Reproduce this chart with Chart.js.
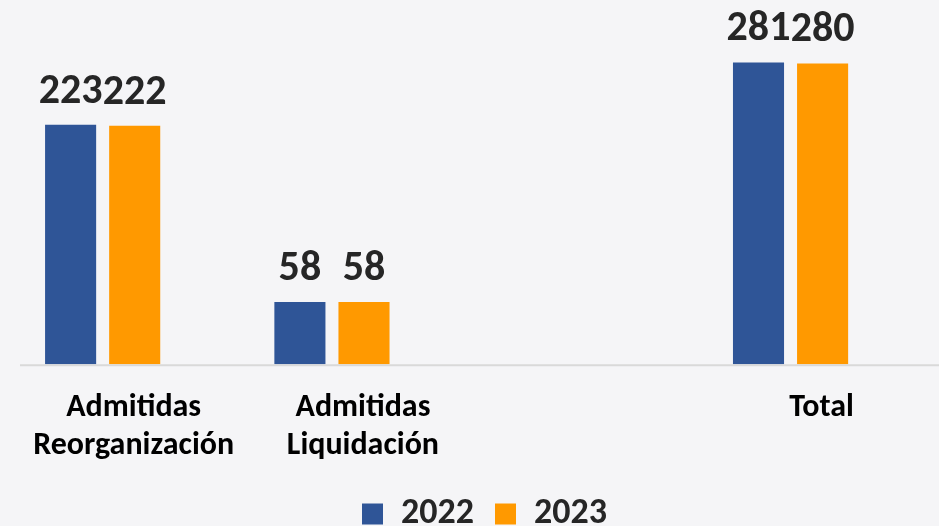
<!DOCTYPE html>
<html>
<head>
<meta charset="utf-8">
<script src="https://cdn.jsdelivr.net/npm/chart.js@4/dist/chart.umd.min.js"></script>
<style>
  html, body { margin: 0; padding: 0; width: 939px; height: 526px; overflow: hidden; background: #F5F5F7; }
  #wrap { position: absolute; left: -12px; top: 0; width: 993px; height: 542px; }
</style>
</head>
<body>
<div id="wrap"><canvas id="c"></canvas></div>
<script>
const categories = [['Admitidas', 'Reorganización'], ['Admitidas', 'Liquidación'], '', 'Total'];
const seriesNames = ['2022', '2023'];
const values2022 = [223, 58, null, 281];
const values2023 = [222, 58, null, 280];

const FONT = "Carlito, Lato, 'Open Sans', sans-serif";
const CANVAS_SHIFT = 12;

const baselinePlugin = {
  id: 'baseline',
  beforeDatasetsDraw(chart) {
    const ctx = chart.ctx;
    const y = chart.scales.y.getPixelForValue(0);
    ctx.save();
    ctx.strokeStyle = '#D9D9D9';
    ctx.lineWidth = 2;
    ctx.beginPath();
    ctx.moveTo(20 + CANVAS_SHIFT, y + 1);
    ctx.lineTo(chart.width, y + 1);
    ctx.stroke();
    ctx.restore();
  }
};

const valueLabels = {
  id: 'valueLabels',
  afterDatasetsDraw(chart) {
    const ctx = chart.ctx;
    ctx.save();
    ctx.font = "bold 42px " + FONT;
    ctx.fillStyle = '#262626';
    ctx.textAlign = 'center';
    ctx.textBaseline = 'alphabetic';
    chart.data.datasets.forEach((ds, di) => {
      chart.getDatasetMeta(di).data.forEach((bar, i) => {
        const v = ds.data[i];
        if (v == null) return;
        ctx.fillText(String(v), bar.x, bar.y - 22);
      });
    });
    ctx.restore();
  }
};

new Chart(document.getElementById('c'), {
  type: 'bar',
  data: {
    labels: categories,
    datasets: [
      { label: seriesNames[0], data: values2022, backgroundColor: '#2F5597', borderWidth: 0 },
      { label: seriesNames[1], data: values2023, backgroundColor: '#FF9900', borderWidth: 0 }
    ]
  },
  options: {
    responsive: true,
    maintainAspectRatio: false,
    animation: false,
    categoryPercentage: 0.559,
    barPercentage: 0.797,
    layout: { autoPadding: false, padding: { left: 0, right: 0, top: 42, bottom: 0 } },
    scales: {
      y: {
        position: 'right',
        min: 0, max: 300,
        grid: { display: false },
        border: { display: false },
        ticks: { display: false },
        afterFit(scale) { scale.width = 75.8; }
      },
      x: {
        offset: true,
        grid: { display: false, drawTicks: false },
        border: { display: false },
        ticks: {
          color: '#000000',
          font: { family: FONT, size: 32, weight: 'bold', lineHeight: 1.2 },
          padding: 24.5,
          labelOffset: 31,
          maxRotation: 0,
          autoSkip: false
        },
        afterFit(scale) {
          scale.height -= 15;
          scale.paddingLeft = 0;
          scale.paddingRight = 0;
        }
      }
    },
    plugins: {
      legend: {
        position: 'bottom',
        labels: {
          boxWidth: 21,
          boxHeight: 21,
          color: '#262626',
          padding: 21,
          font: { family: FONT, size: 36, weight: 'bold' }
        }
      },
      tooltip: { enabled: false }
    }
  },
  plugins: [baselinePlugin, valueLabels]
});
</script>
</body>
</html>
